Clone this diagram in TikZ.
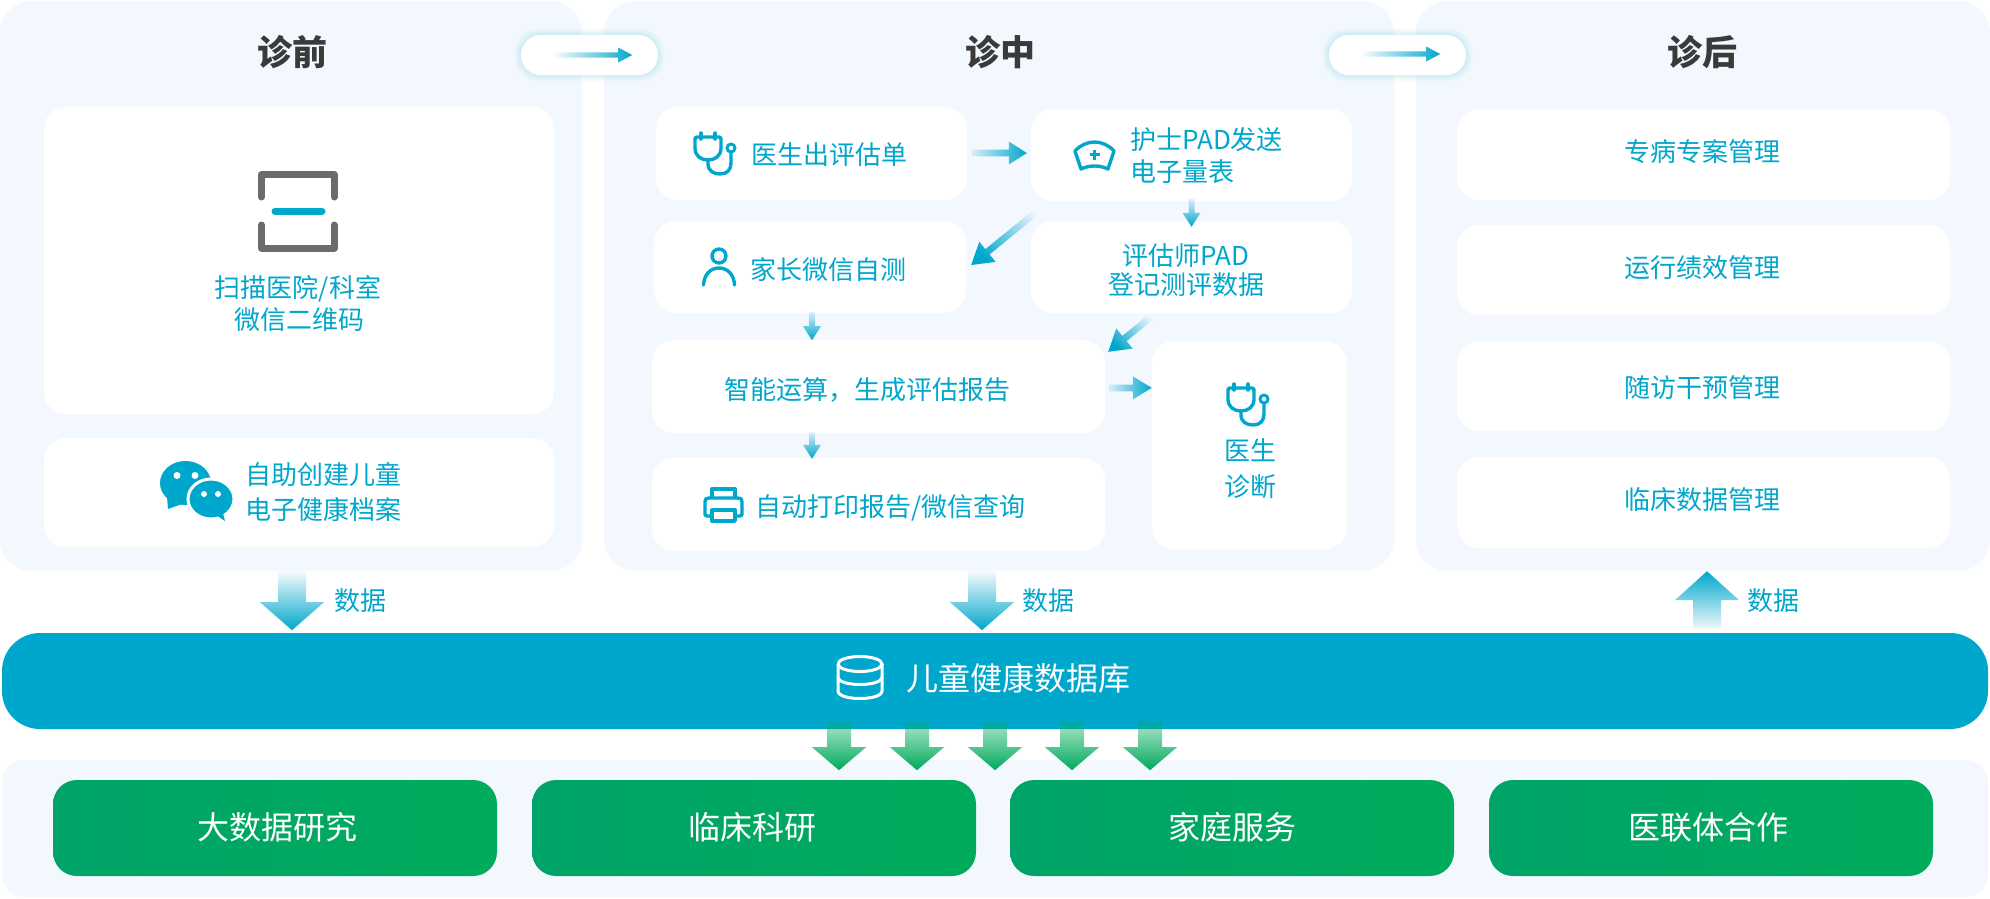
\documentclass[tikz,border=0pt]{standalone}
\usepackage{fontspec}
\setmainfont{Noto Sans CJK SC}
\usetikzlibrary{calc,fadings}
\definecolor{panelbg}{HTML}{F3F8FF}
\definecolor{cyanmain}{HTML}{00A7CC}
\definecolor{titlegray}{HTML}{3A3A3A}
\definecolor{greenL}{HTML}{00A469}
\definecolor{greenR}{HTML}{00AB5B}
\definecolor{iconGray}{HTML}{6B6B6B}
\tikzfading[name=fadeFull,left color=transparent!100,right color=transparent!0]
\tikzfading[name=fadeSmall,left color=transparent!88,right color=transparent!0]
\tikzfading[name=fadeBig,left color=transparent!95,right color=transparent!0]
\tikzfading[name=fadeGreen,left color=transparent!70,right color=transparent!0]
\tikzset{
  panelbox/.style={fill=panelbg,draw=none,rounded corners=32pt,inner sep=0pt},
  cardbox/.style={fill=white,draw=none,rounded corners=22pt,inner sep=0pt},
  greenbox/.style={left color=greenL,right color=greenR,draw=none,rounded corners=24pt,inner sep=0pt},
  lbl/.style={inner sep=0pt,text=cyanmain,font=\fontsize{26}{30}\selectfont,text height=22.9pt,text depth=3.1pt},
  lbltitle/.style={inner sep=0pt,text=titlegray,font=\fontsize{35}{40}\selectfont\bfseries,text height=30.8pt,text depth=4.2pt},
  lblwhite/.style={inner sep=0pt,text=white,font=\fontsize{32}{36}\selectfont,text height=28.2pt,text depth=3.8pt},
  icon/.style={draw=cyanmain,line width=3.4pt,line cap=round,line join=round,fill=none},
  steth/.pic={
    \draw[icon] (7,0) -- (7,6) (21,0) -- (21,6);
    \draw[icon] (3,4) -- (25,4) .. controls (27,4) and (27,5) .. (27,7) -- (27,15)
       .. controls (27,23) and (21,27) .. (14,27) .. controls (7,27) and (1,23) .. (1,15) -- (1,7)
       .. controls (1,5) and (1,4) .. (3,4);
    \draw[icon] (14,27) -- (14,31) .. controls (14,38) and (20,41) .. (26,41)
       .. controls (33,41) and (37,37) .. (37,30) -- (37,20);
    \draw[icon,line width=3pt] (37,15) circle[radius=4];
  },
  nursecap/.pic={
    \draw[icon] (2,9) .. controls (13,-3) and (30,-3) .. (41,9) -- (35,27)
       .. controls (27,23) and (16,23) .. (8,27) -- cycle;
    \draw[cyanmain,line width=3.6pt,line cap=butt] (21.5,7.5) -- (21.5,17.5) (16.5,12.5) -- (26.5,12.5);
  },
  parenticon/.pic={
    \draw[icon] (17,8) circle[radius=7];
    \draw[icon] (1.5,37) .. controls (2,27) and (8,20) .. (17,20) .. controls (26,20) and (32,27) .. (32.5,37);
  },
  printericon/.pic={
    \draw[icon,line cap=butt] (9,11) -- (9,2) -- (32,2) -- (32,11);
    \draw[icon] (9,29) -- (4,29) .. controls (2,29) and (2,28) .. (2,26) -- (2,15) .. controls (2,12) and (3,11) .. (6,11)
       -- (35,11) .. controls (38,11) and (39,12) .. (39,15) -- (39,26) .. controls (39,28) and (39,29) .. (37,29) -- (32,29);
    \draw[icon,line cap=butt] (9,23) rectangle (32,34);
  },
  dbicon/.pic={
    \draw[draw=white,line width=3pt] (0,8) arc[start angle=180,end angle=-180,x radius=22,y radius=7.5];
    \draw[draw=white,line width=3pt] (0,8) -- (0,35) .. controls (0,45) and (44,45) .. (44,35) -- (44,8);
    \draw[draw=white,line width=3pt] (0,21) .. controls (0,31) and (44,31) .. (44,21);
  },
  wechat/.pic={
    \fill[cyanmain] (25.5,22) ellipse[x radius=25.5,y radius=22];
    \fill[cyanmain] (7,36) -- (8,48) -- (22,43) -- cycle;
    \fill[cyanmain,draw=white,line width=3pt] (51,38) ellipse[x radius=23,y radius=20];
    \fill[cyanmain] (53,52) -- (65,60) -- (62,48) -- cycle;
    \fill[white] (17,14.5) circle[radius=3.5] (35,14.5) circle[radius=3.5]
                 (44,33) circle[radius=3] (58,33) circle[radius=3];
  },
  scanicon/.pic={
    \draw[draw=iconGray,line width=7pt,line cap=round,line join=round]
      (3.5,26) -- (3.5,3.5) -- (76,3.5) -- (76,26);
    \draw[draw=iconGray,line width=7pt,line cap=round,line join=round]
      (3.5,54) -- (3.5,77) -- (76,77) -- (76,54);
    \draw[draw=cyanmain,line width=7pt,line cap=round] (17,40) -- (64,40);
  }
}
% card: options, name, x1, y1, x2, y2
\newcommand{\card}[6][cardbox]{%
  \pgfmathsetmacro{\cardcx}{(#3+#5)/2}%
  \pgfmathsetmacro{\cardcy}{(#4+#6)/2}%
  \pgfmathsetmacro{\cardw}{#5-#3}%
  \pgfmathsetmacro{\cardh}{#6-#4}%
  \node[#1,minimum width=\cardw pt,minimum height=\cardh pt] (#2) at (\cardcx,\cardcy) {};%
}
% flow: from, to, half shaft, head length, half head, colour, fading
\newcommand{\flow}[7]{%
  \path let \p1=(#1),\p2=(#2),\n1={atan2(\y2-\y1,\x2-\x1)} in \pgfextra{\xdef\flowang{\n1}};%
  \coordinate (flowbase) at ($(#2)!#4pt!(#1)$);%
  \fill[#6,path fading=#7,fit fading=true,fading angle=\flowang]
    ($(#1)!#3pt!90:(#2)$) -- ($(flowbase)!#3pt!90:(#2)$) -- ($(flowbase)!#5pt!90:(#2)$) -- (#2)
    -- ($(flowbase)!#5pt!-90:(#2)$) -- ($(flowbase)!#3pt!-90:(#2)$) -- ($(#1)!#3pt!-90:(#2)$) -- cycle;%
}
\newcommand{\pillglow}[1]{%
  \foreach \gl in {6,5,4,3,2,1}{%
    \fill[cyanmain,opacity=0.022,rounded corners=22pt]
      ($(#1.south west)+(-\gl,\gl)$) rectangle ($(#1.north east)+(\gl,-\gl)$);}%
}
\begin{document}
\begin{tikzpicture}[x=1pt,y=-1pt]
\useasboundingbox (0,0) rectangle (1990,898);
\fill[white] (0,0) rectangle (1990,898);
% panels
\card[panelbox]{pre}{0}{1}{582}{571}
\card[panelbox]{mid}{604}{1}{1394}{571}
\card[panelbox]{post}{1416}{1}{1990}{571}
\card[panelbox,rounded corners=22pt]{lower}{2}{760}{1988}{897}
% titles
\node[lbltitle] (tPre) at (292,52) {诊前};
\node[lbltitle] (tMid) at (1000,52) {诊中};
\node[lbltitle] (tPost) at (1702,52) {诊后};
% left column
\card{scan}{44}{107}{554}{414}
\card{selfreg}{44}{438}{554}{547}
\pic at (258,171) {scanicon};
\node[lbl] (scanA) at (298,288) {扫描医院/科室};
\node[lbl] (scanB) at (299,320) {微信二维码};
\pic at (160,461) {wechat};
\node[lbl,anchor=west] (selfA) at (245,475) {自助创建儿童};
\node[lbl,anchor=west] (selfB) at (245,510) {电子健康档案};
% middle column
\card{doc}{656}{107}{967}{200}
\card{nurse}{1031}{109}{1352}{201}
\card{parent}{654}{221}{966}{313}
\card{assess}{1031}{221}{1352}{313}
\card{calc}{652}{340}{1105}{433}
\card{print}{652}{458}{1105}{551}
\card{diag}{1152}{341}{1347}{549}
\pic at (694,133) {steth};
\node[lbl,anchor=west] (docT) at (751,155) {医生出评估单};
\pic at (1073,142) {nursecap};
\node[lbl,anchor=west] (nurseA) at (1130,140) {护士PAD发送};
\node[lbl,anchor=west] (nurseB) at (1130,172) {电子量表};
\pic at (702,248) {parenticon};
\node[lbl,anchor=west] (parentT) at (750,270) {家长微信自测};
\node[lbl] (assessA) at (1186,256) {评估师PAD};
\node[lbl] (assessB) at (1186,285) {登记测评数据};
\node[lbl] (calcT) at (867,390) {智能运算，生成评估报告};
\pic at (703,487) {printericon};
\node[lbl,anchor=west] (printT) at (755,507) {自动打印报告/微信查询};
\pic at (1227,384) {steth};
\node[lbl] (diagA) at (1250,451) {医生};
\node[lbl] (diagB) at (1250,487) {诊断};
% right column
\card{rA}{1457}{109}{1950}{200}
\card{rB}{1457}{225}{1950}{315}
\card{rC}{1457}{341}{1950}{431}
\card{rD}{1457}{457}{1950}{548}
\node[lbl] (rAt) at (1702,152) {专病专案管理};
\node[lbl] (rBt) at (1702,268) {运行绩效管理};
\node[lbl] (rCt) at (1702,388) {随访干预管理};
\node[lbl] (rDt) at (1702,500) {临床数据管理};
% pills
\card[cardbox,rounded corners=20pt]{pillA}{521}{35}{658}{75}
\card[cardbox,rounded corners=20pt]{pillB}{1329}{35}{1466}{75}
\pillglow{pillA}
\pillglow{pillB}
\card[cardbox,rounded corners=20pt]{pillAi}{521}{35}{658}{75}
\card[cardbox,rounded corners=20pt]{pillBi}{1329}{35}{1466}{75}
\coordinate (pA1) at ($(pillAi.west)+(31,0)$);
\coordinate (pA2) at ($(pillAi.east)+(-26,0)$);
\flow{pA1}{pA2}{2.6}{14}{7.5}{cyanmain}{fadeFull}
\coordinate (pB1) at ($(pillBi.west)+(31,-1)$);
\coordinate (pB2) at ($(pillBi.east)+(-26,-1)$);
\flow{pB1}{pB2}{2.6}{14}{7.5}{cyanmain}{fadeFull}
% database bar
\card[fill=cyanmain,rounded corners=38pt,inner sep=0pt]{db}{2}{633}{1988}{729}
\pic at (838,656) {dbicon};
\node[lblwhite,anchor=west] (dbT) at (906,678) {儿童健康数据库};
% green boxes
\card[greenbox]{gA}{53}{780}{497}{876}
\card[greenbox]{gB}{532}{780}{976}{876}
\card[greenbox]{gC}{1010}{780}{1454}{876}
\card[greenbox]{gD}{1489}{780}{1933}{876}
\node[lblwhite] (gAt) at (277,827) {大数据研究};
\node[lblwhite] (gBt) at (752.5,827) {临床科研};
\node[lblwhite] (gCt) at (1232,827) {家庭服务};
\node[lblwhite] (gDt) at (1708,827) {医联体合作};
% small flow arrows
\coordinate (f1a) at ($(doc.east)+(5,0)$);
\coordinate (f1b) at ($(nurse.west)+(-4,-2)$);
\coordinate (f1c) at (f1a |- f1b);
\flow{f1c}{f1b}{3.4}{18}{11.5}{cyanmain}{fadeSmall}
\coordinate (f2a) at ($(nurse.south)+(0,-2)$);
\coordinate (f2b) at ($(assess.north)+(0,6)$);
\flow{f2a}{f2b}{3}{14}{9}{cyanmain}{fadeSmall}
\coordinate (f3a) at ($(nurse.south west)+(14,4)$);
\coordinate (f3b) at ($(parent.east)+(5,-2)$);
\flow{f3a}{f3b}{3.4}{21}{13}{cyanmain}{fadeFull}
\coordinate (f4a) at ($(parent.south)+(2,-1)$);
\coordinate (f4b) at ($(parent.south)+(2,27)$);
\flow{f4a}{f4b}{3}{14}{9}{cyanmain}{fadeSmall}
\coordinate (f5a) at ($(assess.south)+(-36,0)$);
\coordinate (f5b) at ($(calc.north east)+(3,12)$);
\flow{f5a}{f5b}{3.4}{21}{13}{cyanmain}{fadeFull}
\coordinate (f6a) at ($(calc.east)+(4,1.5)$);
\coordinate (f6b) at ($(diag.north west)+(0,47)$);
\flow{f6a}{f6b}{3.4}{19}{11.5}{cyanmain}{fadeSmall}
\coordinate (f7a) at ($(calc.south)+(-66.5,-1)$);
\coordinate (f7b) at ($(print.north)+(-66.5,1)$);
\flow{f7a}{f7b}{3}{14}{9}{cyanmain}{fadeSmall}
% data arrows
\coordinate (dAa) at ($(pre.south)+(1,1)$);
\coordinate (dAb) at ($(pre.south)+(1,59)$);
\flow{dAa}{dAb}{14}{28}{32}{cyanmain}{fadeBig}
\node[lbl] (dAt) at (360,601) {数据};
\coordinate (dBa) at ($(mid.south)+(-17,1)$);
\coordinate (dBb) at ($(mid.south)+(-17,59)$);
\flow{dBa}{dBb}{14}{28}{32}{cyanmain}{fadeBig}
\node[lbl] (dBt) at (1048,601) {数据};
\coordinate (dCa) at ($(post.south)+(4,58)$);
\coordinate (dCb) at ($(post.south)+(4,0)$);
\flow{dCa}{dCb}{14}{29}{32}{cyanmain}{fadeBig}
\node[lbl] (dCt) at (1773,601) {数据};
% green arrows
\foreach \gx/\gn in {-156/a,-78/b,0/c,77/d,155/e}{
  \coordinate (g\gn1) at ($(db.south)+(\gx,-8)$);
  \coordinate (g\gn2) at ($(db.south)+(\gx,41)$);
  \flow{g\gn1}{g\gn2}{12}{23}{27}{greenR}{fadeGreen}
}
\end{tikzpicture}
\end{document}
